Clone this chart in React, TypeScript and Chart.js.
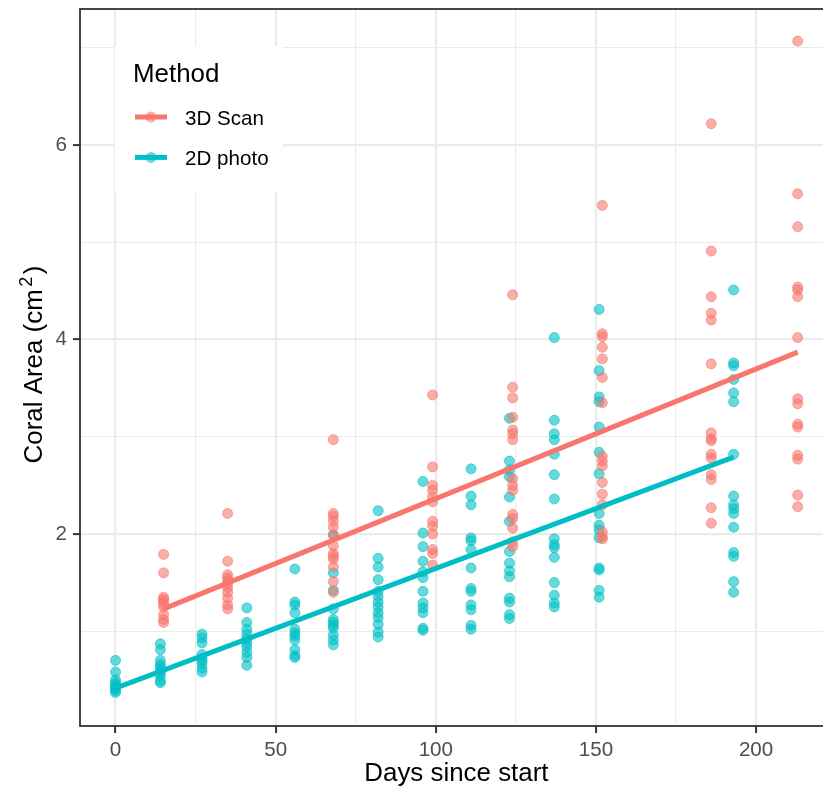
import React, { useEffect, useRef } from "react";
import { Chart, registerables } from "chart.js";

Chart.register(...registerables);

// ---- data ----
const scanDays = [15, 35, 68, 99, 124, 152, 186, 213];
const scanAreas = [
  [1.79, 1.6, 1.35, 1.33, 1.31, 1.28, 1.25, 1.17, 1.12, 1.09],
  [2.21, 1.72, 1.58, 1.55, 1.52, 1.49, 1.45, 1.4, 1.34, 1.27, 1.23],
  [2.97, 2.21, 2.18, 2.13, 2.07, 1.99, 1.88, 1.8, 1.77, 1.74, 1.66, 1.51, 1.4],
  [3.43, 2.69, 2.5, 2.45, 2.38, 2.33, 2.13, 2.08, 2.0, 1.84, 1.8, 1.68],
  [4.46, 3.51, 3.4, 3.2, 3.07, 3.03, 2.97, 2.57, 2.5, 2.45, 2.2, 2.16, 2.06, 1.92, 1.87],
  [5.38, 4.06, 4.03, 3.92, 3.8, 3.61, 3.35, 2.8, 2.75, 2.7, 2.53, 2.41, 2.3, 2.02, 1.97, 1.95],
  [6.22, 4.91, 4.44, 4.27, 4.2, 3.75, 3.04, 2.98, 2.96, 2.82, 2.78, 2.61, 2.56, 2.27, 2.11],
  [7.07, 5.5, 5.16, 4.54, 4.51, 4.44, 4.02, 3.39, 3.34, 3.13, 3.1, 2.81, 2.77, 2.4, 2.28],
];

const photoDays = [0, 14, 27, 41, 56, 68, 82, 96, 111, 123, 137, 151, 193];
const photoAreas = [
  [0.7, 0.58, 0.5, 0.47, 0.45, 0.43, 0.41, 0.39, 0.37],
  [0.87, 0.81, 0.7, 0.66, 0.63, 0.6, 0.57, 0.54, 0.49, 0.47],
  [0.97, 0.93, 0.88, 0.76, 0.72, 0.7, 0.67, 0.62, 0.58],
  [1.24, 1.09, 1.02, 0.97, 0.92, 0.88, 0.84, 0.78, 0.73, 0.65],
  [1.64, 1.3, 1.27, 1.19, 1.02, 0.98, 0.95, 0.91, 0.81, 0.75, 0.73],
  [1.99, 1.6, 1.42, 1.23, 1.12, 1.09, 1.06, 1.03, 0.96, 0.91, 0.86],
  [2.24, 1.75, 1.66, 1.53, 1.41, 1.36, 1.3, 1.25, 1.19, 1.14, 1.07, 0.99, 0.94],
  [2.54, 2.01, 1.87, 1.72, 1.61, 1.55, 1.41, 1.29, 1.24, 1.19, 1.03, 1.01],
  [2.67, 2.39, 2.3, 1.96, 1.93, 1.84, 1.65, 1.44, 1.41, 1.27, 1.22, 1.06, 1.02],
  [3.19, 2.75, 2.66, 2.59, 2.38, 2.13, 1.82, 1.7, 1.62, 1.56, 1.34, 1.3, 1.17, 1.13],
  [4.02, 3.17, 3.03, 2.97, 2.82, 2.61, 2.36, 1.95, 1.89, 1.86, 1.76, 1.5, 1.37, 1.29, 1.25],
  [4.31, 3.68, 3.41, 3.36, 3.1, 2.84, 2.62, 2.21, 2.09, 2.04, 1.96, 1.65, 1.63, 1.42, 1.35],
  [4.51, 3.76, 3.73, 3.59, 3.45, 3.36, 2.82, 2.39, 2.3, 2.26, 2.21, 2.07, 1.81, 1.77, 1.51, 1.4],
];

// fitted straight lines (end points)
const scanFitDays = [15, 213];
const scanFitAreas = [1.23, 3.87];
const photoFitDays = [0, 193];
const photoFitAreas = [0.415, 2.79];

const xTickValues = [0, 25, 50, 75, 100, 125, 150, 175, 200];
const yTickValues = [1, 2, 3, 4, 5, 6, 7];
const seriesNames = ["3D Scan", "2D photo"];
const xTitle = "Days since start";

const RED = "#F8766D";
const TEAL = "#00BFC4";
const RED_A = "rgba(248,118,109,0.6)";
const TEAL_A = "rgba(0,191,196,0.6)";
const FONT = '"Liberation Sans", Arial, Helvetica, sans-serif';

function toPoints(days: number[], areas: number[][]) {
  const pts: { x: number; y: number }[] = [];
  days.forEach((d, i) => areas[i].forEach((a) => pts.push({ x: d, y: a })));
  return pts;
}
function toLine(days: number[], vals: number[]) {
  return days.map((d, i) => ({ x: d, y: vals[i] }));
}

const panelPlugin = {
  id: "ggPanel",
  afterDraw(chart: any) {
    const { ctx, chartArea } = chart;
    const { left, top, bottom } = chartArea;
    ctx.save();
    // panel border (right side lies beyond the canvas)
    ctx.strokeStyle = "#333333";
    ctx.lineWidth = 1.8;
    ctx.strokeRect(left, top, chart.width + 20 - left, bottom - top);

    // x-axis title, centred on the full (partly cropped) panel
    const xs = chart.scales.x;
    const panelRight = xs.getPixelForValue(223.65);
    ctx.fillStyle = "#000000";
    ctx.textAlign = "center";
    ctx.textBaseline = "middle";
    ctx.font = `25.9px ${FONT}`;
    ctx.fillText(xTitle, (left + panelRight) / 2 + 0.5, 774);

    // y-axis title with superscript
    const size = 25.9;
    const main1 = "Coral Area (cm";
    const sup = "2";
    const main2 = ")";
    ctx.textBaseline = "alphabetic";
    ctx.textAlign = "left";
    ctx.font = `${size}px ${FONT}`;
    const w1 = ctx.measureText(main1).width;
    const w3 = ctx.measureText(main2).width;
    ctx.font = `${size * 0.7}px ${FONT}`;
    const w2 = ctx.measureText(sup).width;
    const gap = 2.5;
    const total = w1 + gap + w2 + gap + w3;
    const cy = (top + bottom) / 2 - 3;
    ctx.translate(42, cy + total / 2);
    ctx.rotate(-Math.PI / 2);
    ctx.font = `${size}px ${FONT}`;
    ctx.fillText(main1, 0, 0);
    ctx.font = `${size * 0.7}px ${FONT}`;
    ctx.fillText(sup, w1 + gap, -10);
    ctx.font = `${size}px ${FONT}`;
    ctx.fillText(main2, w1 + gap + w2 + gap, 0);
    ctx.setTransform(1, 0, 0, 1, 0, 0);

    // legend
    const lx = left + 35;
    const ly = top + 37;
    ctx.fillStyle = "#ffffff";
    ctx.fillRect(lx, ly, 168, 146);
    ctx.fillStyle = "#000000";
    ctx.font = `25.9px ${FONT}`;
    ctx.fillText("Method", lx + 18, ly + 36);
    const cols = [RED, TEAL];
    const colsA = [RED_A, TEAL_A];
    seriesNames.forEach((name, i) => {
      const yy = ly + 71 + i * 40.4;
      ctx.strokeStyle = cols[i];
      ctx.lineWidth = 5;
      ctx.beginPath();
      ctx.moveTo(lx + 20, yy);
      ctx.lineTo(lx + 52, yy);
      ctx.stroke();
      ctx.fillStyle = colsA[i];
      ctx.beginPath();
      ctx.arc(lx + 36, yy, 5.5, 0, Math.PI * 2);
      ctx.fill();
      ctx.fillStyle = "#000000";
      ctx.font = `20.6px ${FONT}`;
      ctx.fillText(name, lx + 70, yy + 7.5);
    });
    ctx.restore();
  },
};

export default function App() {
  const ref = useRef<HTMLCanvasElement | null>(null);

  useEffect(() => {
    document.body.style.margin = "0";
    const canvas = ref.current;
    if (!canvas) return;
    const chart = new Chart(canvas, {
      type: "scatter",
      data: {
        datasets: [
          {
            label: "3D Scan fit",
            data: toLine(scanFitDays, scanFitAreas),
            showLine: true,
            borderColor: RED,
            borderWidth: 5,
            pointRadius: 0,
            borderCapStyle: "butt",
          } as any,
          {
            label: "2D photo fit",
            data: toLine(photoFitDays, photoFitAreas),
            showLine: true,
            borderColor: TEAL,
            borderWidth: 5,
            pointRadius: 0,
            borderCapStyle: "butt",
          } as any,
          {
            label: "3D Scan",
            data: toPoints(scanDays, scanAreas),
            backgroundColor: RED_A,
            borderColor: RED_A,
            borderWidth: 1,
            pointRadius: 5,
          },
          {
            label: "2D photo",
            data: toPoints(photoDays, photoAreas),
            backgroundColor: TEAL_A,
            borderColor: TEAL_A,
            borderWidth: 1,
            pointRadius: 5,
          },
        ],
      },
      options: {
        animation: false,
        responsive: false,
        devicePixelRatio: 1,
        events: [],
        layout: { autoPadding: false, padding: { top: 9, left: 0, right: 0, bottom: 0 } },
        plugins: { legend: { display: false }, tooltip: { enabled: false } },
        scales: {
          x: {
            type: "linear",
            min: -11.1,
            max: 220.9,
            afterBuildTicks: (s: any) => {
              s.ticks = xTickValues.map((v) => ({ value: v }));
            },
            afterFit: (s: any) => {
              s.height = 63;
              s.paddingLeft = 0;
              s.paddingRight = 0;
            },
            border: { display: false },
            grid: {
              color: "#EBEBEB",
              lineWidth: (c: any) => (c.tick && c.tick.value % 50 === 0 ? 2.2 : 1.1),
              tickColor: (c: any) => (c.tick && c.tick.value % 50 === 0 ? "#333333" : "rgba(0,0,0,0)"),
              tickLength: 7,
              tickWidth: 2,
            },
            ticks: {
              autoSkip: false,
              maxRotation: 0,
              padding: 5,
              color: "#4D4D4D",
              font: { family: FONT, size: 20.6 },
              callback: (v: any) => (Number(v) % 50 === 0 ? String(v) : ""),
            },
            title: { display: false },
          },
          y: {
            type: "linear",
            min: 0.025,
            max: 7.4,
            afterBuildTicks: (s: any) => {
              s.ticks = yTickValues.map((v) => ({ value: v }));
            },
            afterFit: (s: any) => {
              s.width = 80;
              s.paddingTop = 0;
              s.paddingBottom = 0;
            },
            border: { display: false },
            grid: {
              color: "#EBEBEB",
              lineWidth: (c: any) => (c.tick && c.tick.value % 2 === 0 ? 2.2 : 1.1),
              tickColor: (c: any) => (c.tick && c.tick.value % 2 === 0 ? "#333333" : "rgba(0,0,0,0)"),
              tickLength: 7,
              tickWidth: 2,
            },
            ticks: {
              autoSkip: false,
              padding: 6,
              color: "#4D4D4D",
              font: { family: FONT, size: 20.6 },
              callback: (v: any) => (Number(v) % 2 === 0 ? String(v) : ""),
            },
            title: { display: false },
          },
        },
      },
      plugins: [panelPlugin],
    });
    return () => chart.destroy();
  }, []);

  return <canvas ref={ref} width={823} height={789} style={{ display: "block", width: 823, height: 789 }} />;
}
